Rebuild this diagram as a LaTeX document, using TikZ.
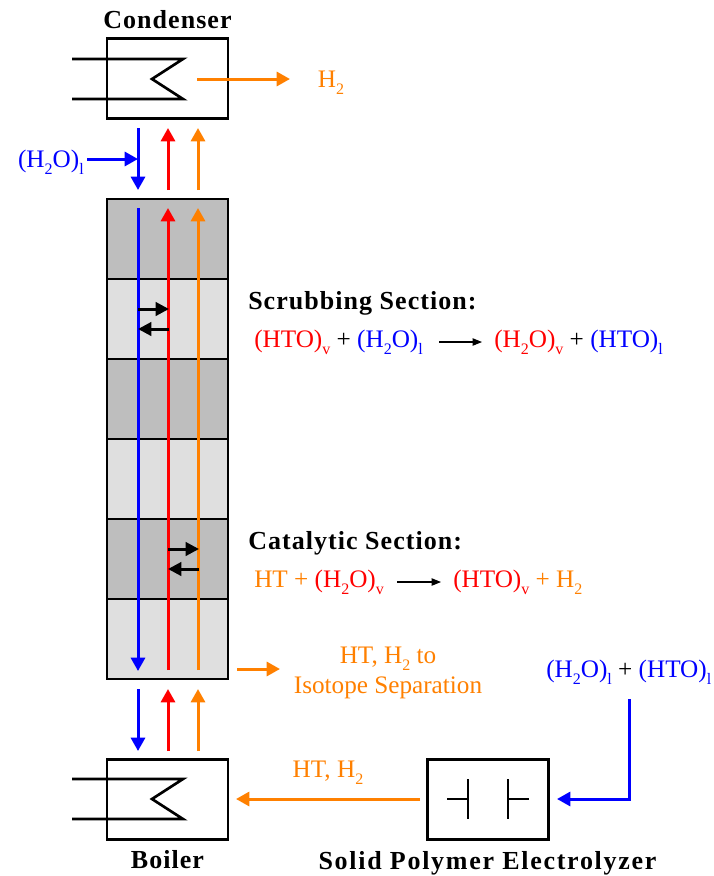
\documentclass[tikz,border=0pt]{standalone}
\usepackage{fontspec}
\setmainfont{Liberation Serif}
\newfontfamily\spacedfont[LetterSpace=4]{Liberation Serif}
\newfontfamily\widefont[LetterSpace=6.6]{Liberation Serif}
\usepackage{tikz}
\usetikzlibrary{arrows.meta, positioning}
\definecolor{flowblue}{HTML}{0000FF}
\definecolor{flowred}{HTML}{FF0000}
\definecolor{floworange}{HTML}{FF8000}
\definecolor{traydark}{HTML}{BEBEBE}
\definecolor{traylight}{HTML}{DFDFDF}
\newcommand{\subs}[1]{\raisebox{-0.28em}{\fontsize{12pt}{12pt}\selectfont #1}}

\begin{document}
\begin{tikzpicture}[
    x=0.75pt, y=-0.75pt,
    unit/.style={draw, line width=2pt, minimum width=90.75pt, minimum height=60pt, inner sep=0pt, fill=white},
    tray/.style={draw, line width=2pt, minimum width=90.75pt, minimum height=60pt, inner sep=0pt, fill=tray#1},
    flow/.style={-{Triangle[length=10pt,width=10.5pt]}, line width=2.25pt, draw=#1},
    swap/.style={-{Triangle[length=10pt,width=10pt]}, line width=2.25pt, black},
    coil/.style={line width=2pt, black, line join=miter},
    txt/.style={font=\fontsize{18.9pt}{22.5pt}\selectfont, inner sep=0pt, text=#1},
    head/.style={font=\fontsize{19.5pt}{22.5pt}\selectfont\spacedfont\bfseries, inner sep=0pt},
    react/.style={-{Triangle[length=7pt,width=5.5pt]}, line width=0.8pt, black},
]
\useasboundingbox (0,0) rectangle (714,876);
% Column
\node[tray=dark] (T1) at (167.5,239) {};
\node[tray=light] (T2) at (167.5,319) {};
\node[tray=dark] (T3) at (167.5,399) {};
\node[tray=light] (T4) at (167.5,479) {};
\node[tray=dark] (T5) at (167.5,559) {};
\node[tray=light] (T6) at (167.5,639) {};
% Units
\node[unit] (condenser) at (167.5,78.5) {};
\node[unit] (boiler) at (167.5,799.5) {};
\node[unit] (electrolyzer) at (488,799.5) {};
% Titles
\node[head] (condenserlabel) at (167.5,20) {Condenser};
\node[head] (boilerlabel) at (167.5,860) {Boiler};
\node[head, font=\fontsize{19.5pt}{22.5pt}\selectfont\widefont\bfseries] (electrolyzerlabel) at (487.5,863) {Solid Polymer Electrolyzer};
\node[head, anchor=west] (scrubbing) at (248,303) {Scrubbing Section:};
\node[head, anchor=west] (catalytic) at (248,543) {Catalytic Section:};
% Coils
\draw[coil] (72,59) -- (183,59) -- (152,79) -- (183,99) -- (72,99);
\draw[coil] (72,779) -- (183,779) -- (152,799) -- (183,819) -- (72,819);
% Electrodes
\coordinate (leadL) at (447,799);
\coordinate (plateL) at (468,799);
\coordinate (plateR) at (508,799);
\coordinate (leadR) at (529,799);
\draw[coil] (leadL) -- (plateL);
\draw[coil] (468,779) -- (468,819);
\draw[coil] (plateR) -- (leadR);
\draw[coil] (508,779) -- (508,819);
% Stream labels
\node[txt=floworange] (h2) at (331,83) {H\subs{2}};
\node[txt=flowblue, anchor=east] (feed) at (84,162) {(H\subs{2}O)\subs{l}};
\node[txt=floworange] (ht1) at (388,659) {HT, H\subs{2} to};
\node[txt=floworange] (ht2) at (388,688) {Isotope Separation};
\node[txt=floworange] (ht3) at (328,773) {HT, H\subs{2}};
\node[txt=flowblue, anchor=west] (return) at (546,672) {(H\subs{2}O)\subs{l} \textcolor{black}{+} (HTO)\subs{l}};
% Reactions
\node[txt=flowred, anchor=west] (scrubL) at (254,342) {(HTO)\subs{v} \textcolor{black}{+} \textcolor{flowblue}{(H\subs{2}O)\subs{l}}};
\node[txt=flowred, anchor=west] (scrubR) at (494,342) {(H\subs{2}O)\subs{v} \textcolor{black}{+} \textcolor{flowblue}{(HTO)\subs{l}}};
\node[txt=floworange, anchor=west] (catL) at (254,582) {HT + \textcolor{flowred}{(H\subs{2}O)\subs{v}}};
\node[txt=floworange, anchor=west] (catR) at (453,582) {\textcolor{flowred}{(HTO)\subs{v}} + H\subs{2}};
\draw[react, shorten <=12pt, shorten >=9pt] (scrubL.east) -- (scrubR.west);
\draw[react, shorten <=10pt, shorten >=9pt] (catL.east) -- (catR.west);
% Stream ends
\coordinate (b1) at (138,128); \coordinate (b2) at (138,190);
\coordinate (r1) at (168,190); \coordinate (r2) at (168,128);
\coordinate (o1) at (198,190); \coordinate (o2) at (198,128);
\coordinate (b3) at (138,208); \coordinate (b4) at (138,671);
\coordinate (r3) at (168,670); \coordinate (r4) at (168,208);
\coordinate (o3) at (198,670); \coordinate (o4) at (198,208);
\coordinate (b5) at (138,689); \coordinate (b6) at (138,751);
\coordinate (r5) at (168,751); \coordinate (r6) at (168,689);
\coordinate (o5) at (198,751); \coordinate (o6) at (198,689);
\coordinate (feedend) at (87,159); \coordinate (feedjoin) at (138,159);
\coordinate (topout) at (197,79); \coordinate (topend) at (290,79);
\coordinate (sideout) at (237,669); \coordinate (sideend) at (280,669);
\coordinate (elout) at (420,799); \coordinate (boilin) at (236,799);
\coordinate (retout) at (629,699); \coordinate (retbend) at (629,799); \coordinate (elin) at (557,799);
% Streams
\draw[flow=flowblue] (b1) -- (b2);
\draw[flow=flowred] (r1) -- (r2);
\draw[flow=floworange] (o1) -- (o2);
\draw[flow=flowblue] (b3) -- (b4);
\draw[flow=flowred] (r3) -- (r4);
\draw[flow=floworange] (o3) -- (o4);
\draw[flow=flowblue] (b5) -- (b6);
\draw[flow=flowred] (r5) -- (r6);
\draw[flow=floworange] (o5) -- (o6);
\draw[flow=flowblue] (feedend) -- (feedjoin);
\draw[flow=floworange] (topout) -- (topend);
\draw[flow=floworange] (sideout) -- (sideend);
\draw[flow=floworange] (elout) -- (boilin);
\draw[flow=flowblue] (retout) -- (retbend) -- (elin);
% Exchange
\coordinate (s1) at (138,309); \coordinate (s2) at (169,309);
\coordinate (s3) at (169,329); \coordinate (s4) at (138,329);
\coordinate (c1) at (168,549); \coordinate (c2) at (199,549);
\coordinate (c3) at (199,569); \coordinate (c4) at (168,569);
\draw[swap] (s1) -- (s2);
\draw[swap] (s3) -- (s4);
\draw[swap] (c1) -- (c2);
\draw[swap] (c3) -- (c4);
\end{tikzpicture}
\end{document}
